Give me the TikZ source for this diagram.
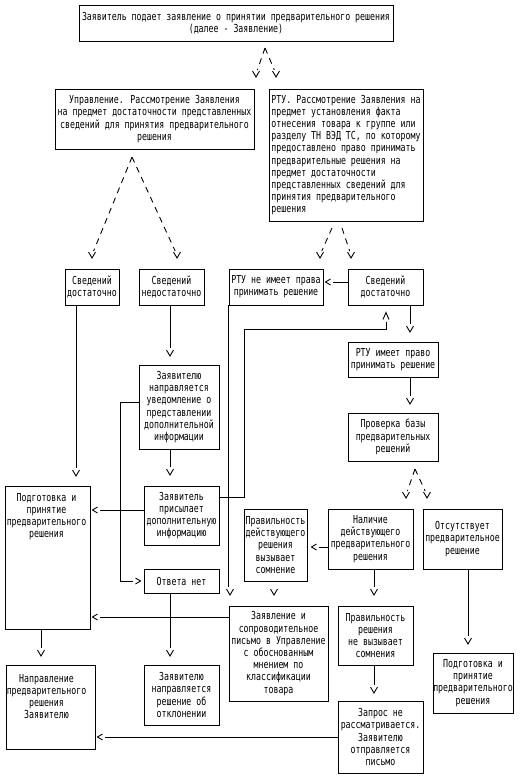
\documentclass[tikz,border=0pt]{standalone}
\usepackage{fontspec}
\usepackage{tikz}
\usetikzlibrary{positioning}
\newfontfamily\boxfont[FakeStretch=0.75]{DejaVu Sans Mono}

\begin{document}
\begin{tikzpicture}[x=1pt, y=-1pt, line width=0.9pt,
    font=\boxfont\fontsize{11}{12.2}\selectfont,
    box/.style={rectangle, draw, inner sep=0pt, align=center},
    txt/.style={inner sep=0pt, align=center},
    vtip/.style={inner sep=0pt, minimum width=9pt, minimum height=7pt,
        path picture={\draw ([shift={(-3.5pt,3pt)}]path picture bounding box.center)
            -- ++(3.5pt,-6pt) -- ++(3.5pt,6pt);}},
    ltip/.style={inner sep=0pt, minimum width=6pt, minimum height=8pt,
        path picture={\draw ([shift={(2.5pt,3pt)}]path picture bounding box.center)
            -- ++(-5pt,-3pt) -- ++(5pt,-3pt);}},
    rtip/.style={inner sep=0pt, minimum width=6pt, minimum height=8pt,
        path picture={\draw ([shift={(-2.5pt,3pt)}]path picture bounding box.center)
            -- ++(5pt,-3pt) -- ++(-5pt,-3pt);}},
    utip/.style={inner sep=0pt, minimum width=8pt, minimum height=9pt,
        path picture={\draw ([shift={(-3pt,-3.5pt)}]path picture bounding box.center)
            -- ++(3pt,7pt) -- ++(3pt,-7pt);}},
    link/.style={shorten >=1.5pt},
    fork/.style={dash pattern=on 6pt off 5pt}
]
    \useasboundingbox (0,0) rectangle (526,779);

    % Application and first review
    \node[box, minimum width=314pt, minimum height=36pt] (zayav) at (236,23)
        {Заявитель подает заявление о принятии предварительного решения\\(далее - Заявление)};
    \node[box, minimum width=199pt, minimum height=60pt] (uprav) at (154.5,119)
        {Управление. Рассмотрение Заявления\\на предмет достаточности представленных\\сведений для принятия предварительного\\решения};
    \node[box, align=left, minimum width=154pt, minimum height=132pt] (rtu) at (346,155)
        {РТУ. Рассмотрение Заявления на\\предмет установления факта\\отнесения товара к группе или\\разделу ТН ВЭД ТС, по которому\\предоставлено право принимать\\предварительные решения на\\предмет достаточности\\представленных сведений для\\принятия предварительного\\решения};

    % Second row
    \node[box, minimum width=54pt, minimum height=36pt] (dost1) at (92,287) {Сведений\\достаточно};
    \node[box, minimum width=65pt, minimum height=36pt] (nedost) at (171.5,287) {Сведений\\недостаточно};
    \node[box, minimum width=94pt, minimum height=36pt] (netprava) at (276,287) {РТУ не имеет права\\принимать решение};
    \node[box, minimum width=75pt, minimum height=36pt] (dost2) at (385.5,287) {Сведений\\достаточно};

    % Middle part
    \node[box, minimum width=90pt, minimum height=35pt] (imeet) at (393,359.5) {РТУ имеет право\\принимать решение};
    \node[box, minimum width=80pt, minimum height=84pt] (uved) at (179,407)
        {Заявителю\\направляется\\уведомление о\\представлении\\дополнительной\\информации};
    \node[box, minimum width=90pt, minimum height=48pt] (proverka) at (393,437) {Проверка базы\\предварительных\\решений};
    \node[box, minimum width=85pt, minimum height=143pt] (podg1) at (47.5,557.5) {};
    \node[txt, below=7pt of podg1.north, xshift=-1pt] (podg1txt) {Подготовка и\\принятие\\предварительного\\решения};
    \node[box, minimum width=75pt, minimum height=59pt] (prisyl) at (181.5,515.5)
        {Заявитель\\присылает\\дополнительную\\информацию};
    \node[box, minimum width=63pt, minimum height=72pt] (pravsomn) at (275.5,545)
        {Правильность\\действующего\\решения\\вызывает\\сомнение};
    \node[box, minimum width=85pt, minimum height=60pt] (nalichie) at (370.5,539)
        {Наличие\\действующего\\предварительного\\решения};
    \node[box, minimum width=79pt, minimum height=60pt] (otsut) at (462.5,539)
        {Отсутствует\\предварительное\\решение};
    \node[box, minimum width=75pt, minimum height=24pt] (otvnet) at (181.5,581) {Ответа нет};

    % Bottom part
    \node[box, minimum width=99pt, minimum height=95pt] (zayavl) at (278.5,653.5)
        {Заявление и\\сопроводительное\\письмо в Управление\\с обоснованным\\мнением по\\классификации\\товара};
    \node[box, minimum width=75pt, minimum height=59pt] (pravne) at (375.5,635.5)
        {Правильность\\решения\\не вызывает\\сомнения};
    \node[box, minimum width=80pt, minimum height=60pt] (podg2) at (473,683)
        {Подготовка и\\принятие\\предварительного\\решения};
    \node[box, minimum width=89pt, minimum height=84pt] (naprav) at (50.5,707) {};
    \node[txt, below=9pt of naprav.north, xshift=-4pt] (napravtxt) {Направление\\предварительного\\решения\\Заявителю};
    \node[box, minimum width=75pt, minimum height=60pt] (otkl) at (181.5,695)
        {Заявителю\\направляется\\решение об\\отклонении};
    \node[box, minimum width=85pt, minimum height=72pt] (zapros) at (380.5,737)
        {Запрос не\\рассматривается.\\Заявителю\\отправляется\\письмо};

    % Arrow heads
    \begin{scope}[every node/.style={vtip}]
        \node (f1l) at (256,74) {};
        \node (f1r) at (276,74) {};
        \node (f2l) at (92,255) {};
        \node (f2r) at (177,255) {};
        \node (f3l) at (320,255) {};
        \node (f3r) at (351,255) {};
        \node (f4l) at (406,495) {};
        \node (f4r) at (427,495) {};
        \node (vd1) at (76,473) {};
        \node (vd2) at (170,353) {};
        \node (vd3) at (230,592) {};
        \node (vd4) at (410,329) {};
        \node (vd5) at (170,472) {};
        \node (vd6) at (410,401) {};
        \node (vd7) at (274,592) {};
        \node (vd8) at (374,592) {};
        \node (vd9) at (468,641) {};
        \node (vd10) at (41,653) {};
        \node (vd11) at (170,653) {};
        \node (vd12) at (374,690) {};
    \end{scope}
    \begin{scope}[every node/.style={ltip}]
        \node (tl1) at (328,282) {};
        \node (tl2) at (95,510) {};
        \node (tl3) at (314,547) {};
        \node (tl4) at (95,617) {};
        \node (tl5) at (100,737) {};
    \end{scope}
    \node[rtip] (tr1) at (138,581) {};
    \node[utip] (tu1) at (386,316) {};

    % Dashed forks
    \coordinate (f1) at (265,48);
    \coordinate (f2) at (132,157);
    \coordinate (f3a) at (332,228);
    \coordinate (f3b) at (342,228);
    \coordinate (f4) at (415,469);
    \draw[fork] (f1) -- (f1l);
    \draw[fork] (f1) -- (f1r);
    \draw[fork] (f2) -- (f2l);
    \draw[fork] (f2) -- (f2r);
    \draw[fork] (f3a) -- (f3l);
    \draw[fork] (f3b) -- (f3r);
    \draw[fork] (f4) -- (f4l);
    \draw[fork] (f4) -- (f4r);

    % Straight connectors
    \draw[link] (dost1.south -| vd1) -- (vd1);
    \draw[link] (nedost.south -| vd2) -- (vd2);
    \draw[link] (netprava.south west) -- (netprava.south west |- vd3.north);
    \draw[link] (dost2.south -| vd4) -- (vd4);
    \draw[link] (uved.south -| vd5) -- (vd5);
    \draw[link] (imeet.south -| vd6) -- (vd6);
    \draw[link] (nalichie.south -| vd8) -- (vd8);
    \draw[link] (otsut.south -| vd9) -- (vd9);
    \draw[link] (podg1.south -| vd10) -- (vd10);
    \draw[link] (otvnet.south -| vd11) -- (vd11);
    \draw[link] (pravne.south -| vd12) -- (vd12);
    \draw[link] (dost2.west |- tl1) -- (tl1);
    \draw[link] (prisyl.west |- tl2) -- (tl2);
    \draw[link] (nalichie.west |- tl3) -- (tl3);
    \draw[link] (zayavl.west |- tl4) -- (tl4);
    \draw[link] (zapros.west |- tl5) -- (tl5);

    % Elbow connectors
    \coordinate (c1) at (120,402);
    \coordinate (c2) at (244,497);
    \coordinate (c3) at (386,329);
    \draw[link] (uved.west |- c1) -- (c1) |- (tr1);
    \draw[link] (prisyl.east |- c2) -- (c2) |- (c3) -- (tu1);
\end{tikzpicture}
\end{document}
